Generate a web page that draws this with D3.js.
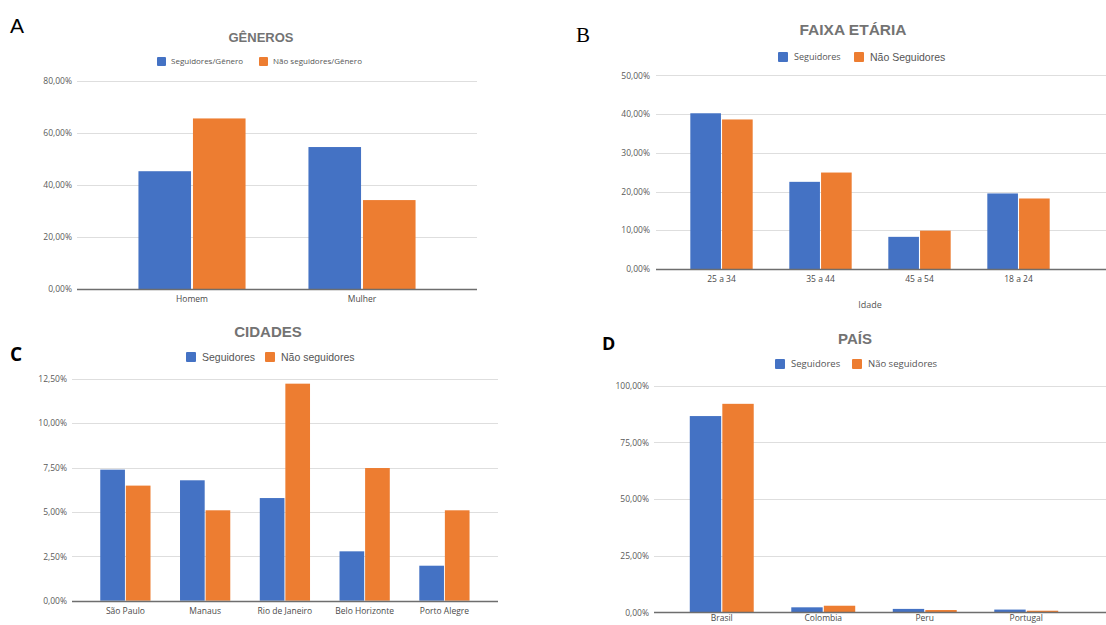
<!DOCTYPE html>
<html><head><meta charset="utf-8">
<script src="https://cdn.jsdelivr.net/npm/d3@7"></script>
<style>
html,body{margin:0;padding:0;background:#fff;}
svg{display:block;}
text{font-family:"Open Sans","Liberation Sans",Arial,sans-serif;}
</style></head>
<body>
<svg id="chart" width="1106" height="625"></svg>
<script>
// ---------- DATA ----------
const generoCategories = ["Homem", "Mulher"];
const generoSeries = ["Seguidores/Gênero", "Não seguidores/Gênero"];
const generoSeguidores = [45.3, 54.6];
const generoNaoSeguidores = [65.6, 34.2];
const generoTicks = [0, 20, 40, 60, 80];

const faixaCategories = ["25 a 34", "35 a 44", "45 a 54", "18 a 24"];
const faixaSeries = ["Seguidores", "Não Seguidores"];
const faixaSeguidores = [40.2, 22.5, 8.3, 19.5];
const faixaNaoSeguidores = [38.6, 24.9, 9.9, 18.2];
const faixaTicks = [0, 10, 20, 30, 40, 50];

const cidadeCategories = ["São Paulo", "Manaus", "Rio de Janeiro", "Belo Horizonte", "Porto Alegre"];
const cidadeSeries = ["Seguidores", "Não seguidores"];
const cidadeSeguidores = [7.38, 6.78, 5.78, 2.78, 1.97];
const cidadeNaoSeguidores = [6.48, 5.09, 12.22, 7.47, 5.09];
const cidadeTicks = [0, 2.5, 5, 7.5, 10, 12.5];

const paisCategories = ["Brasil", "Colombia", "Peru", "Portugal"];
const paisSeries = ["Seguidores", "Não seguidores"];
const paisSeguidores = [86.6, 2.2, 1.5, 1.2];
const paisNaoSeguidores = [92.0, 2.9, 1.0, 0.7];
const paisTicks = [0, 25, 50, 75, 100];

// ---------- STYLE ----------
const colors = ["#4472C4", "#ED7D31"];
const locale = d3.formatLocale({decimal: ",", thousands: ".", grouping: [3], currency: ["R$", ""]});
const fmt = v => locale.format(".2f")(v) + "%";

const svg = d3.select("#chart");

function panel(cfg) {
  const g = svg.append("g");
  const y = d3.scaleLinear().domain([0, cfg.max]).range([cfg.y0, cfg.y1]);
  const x0 = d3.scaleBand().domain(cfg.categories).range(cfg.band).padding(0);
  const groupW = x0.bandwidth() * 0.63;
  const x1 = d3.scaleBand().domain([0, 1]).range([0, groupW]).paddingInner(0.035);

  // gridlines
  g.selectAll(".grid").data(cfg.ticks.filter(t => t > 0)).join("line")
    .attr("x1", cfg.grid[0]).attr("x2", cfg.grid[1])
    .attr("y1", d => Math.round(y(d)) + 0.5).attr("y2", d => Math.round(y(d)) + 0.5)
    .attr("stroke", "#dedede").attr("stroke-width", 1);

  // y axis labels via d3 axis
  const yAxis = d3.axisLeft(y).tickValues(cfg.ticks).tickFormat(fmt).tickSize(0).tickPadding(0);
  const ya = g.append("g").attr("transform", `translate(${cfg.labelX},0)`).call(yAxis);
  ya.select(".domain").remove();
  ya.selectAll("text").attr("fill", "#5a5a5a").style("font-size", cfg.tickFont + "px")
    .style("font-family", '"Open Sans","Liberation Sans",sans-serif');

  // bars
  const series = [cfg.s1, cfg.s2];
  cfg.categories.forEach((c, i) => {
    series.forEach((arr, s) => {
      const xb = x0(c) + (x0.bandwidth() - groupW) / 2 + x1(s);
      g.append("rect")
        .attr("x", xb).attr("width", x1.bandwidth())
        .attr("y", y(arr[i])).attr("height", Math.max(0, y(0) - y(arr[i])))
        .attr("fill", colors[s]);
    });
  });

  // baseline
  g.append("line").attr("x1", cfg.grid[0]).attr("x2", cfg.grid[1])
    .attr("y1", Math.round(y(0)) + 0.5).attr("y2", Math.round(y(0)) + 0.5)
    .attr("stroke", "#6e6e6e").attr("stroke-width", 1.3);

  // x axis labels
  const xAxis = d3.axisBottom(x0).tickSize(0).tickPadding(0);
  const xa = g.append("g").attr("transform", `translate(0,${cfg.xLabelY})`).call(xAxis);
  xa.select(".domain").remove();
  xa.selectAll("text").attr("fill", "#4a4a4a").attr("dy", "0.35em").attr("y", 0)
    .style("font-size", cfg.xFont + "px")
    .style("font-family", '"Open Sans","Liberation Sans",sans-serif');

  // title
  g.append("text").attr("x", cfg.titleX).attr("y", cfg.titleY).attr("dy", "0.35em")
    .attr("text-anchor", "middle").attr("fill", "#737373")
    .style("font-size", cfg.titleFont + "px").style("font-weight", "bold")
    .style("font-family", '"Liberation Sans",Arial,sans-serif')
    .text(cfg.title);

  // legend
  cfg.legend.forEach((L, s) => {
    g.append("rect").attr("x", L.x).attr("y", cfg.legendY - cfg.sq / 2)
      .attr("width", cfg.sq).attr("height", cfg.sq).attr("rx", 1).attr("fill", colors[s]);
    g.append("text").attr("x", L.tx).attr("y", cfg.legendY).attr("dy", "0.35em")
      .attr("fill", "#555").style("font-size", L.font + "px")
      .style("font-family", L.family || '"Open Sans","Liberation Sans",sans-serif')
      .text(cfg.seriesNames[s]);
  });

  // panel letter
  g.append("text").attr("x", cfg.letter.x).attr("y", cfg.letter.y)
    .attr("fill", "#000").style("font-size", cfg.letter.size + "px")
    .style("font-weight", cfg.letter.weight)
    .style("font-family", cfg.letter.family)
    .text(cfg.letter.t);

  if (cfg.xTitle) {
    g.append("text").attr("x", cfg.xTitle.x).attr("y", cfg.xTitle.y).attr("dy", "0.35em")
      .attr("text-anchor", "middle").attr("fill", "#555").style("font-size", "9px")
      .text(cfg.xTitle.t);
  }
}

panel({
  categories: generoCategories, seriesNames: generoSeries, s1: generoSeguidores, s2: generoNaoSeguidores,
  ticks: generoTicks, max: 80, y0: 289, y1: 81, band: [107, 447], grid: [77, 477], labelX: 72,
  tickFont: 8.5, xFont: 8.5, xLabelY: 299,
  title: "GÊNEROS", titleX: 261, titleY: 37, titleFont: 13,
  legendY: 61.5, sq: 9, legend: [{x: 157, tx: 171, font: 8}, {x: 259, tx: 273, font: 8}],
  letter: {t: "A", x: 10, y: 33, size: 21, weight: "normal", family: '"Liberation Sans",Arial,sans-serif'}
});

panel({
  categories: faixaCategories, seriesNames: faixaSeries, s1: faixaSeguidores, s2: faixaNaoSeguidores,
  ticks: faixaTicks, max: 50, y0: 269, y1: 75.3, band: [672, 1068], grid: [656, 1106], labelX: 650,
  tickFont: 8.5, xFont: 8.5, xLabelY: 279,
  title: "FAIXA ETÁRIA", titleX: 853, titleY: 30, titleFont: 15.5,
  legendY: 57, sq: 10, legend: [{x: 778, tx: 794, font: 9}, {x: 854, tx: 870, font: 10.5, family: '"Liberation Sans",Arial,sans-serif'}],
  xTitle: {t: "Idade", x: 870, y: 305},
  letter: {t: "B", x: 576, y: 42, size: 21, weight: "normal", family: '"Liberation Serif","DejaVu Serif",serif'}
});

panel({
  categories: cidadeCategories, seriesNames: cidadeSeries, s1: cidadeSeguidores, s2: cidadeNaoSeguidores,
  ticks: cidadeTicks, max: 12.5, y0: 600.7, y1: 378.7, band: [85.5, 484.3], grid: [72, 498], labelX: 67,
  tickFont: 8.5, xFont: 8.5, xLabelY: 611,
  title: "CIDADES", titleX: 268, titleY: 332, titleFont: 15,
  legendY: 357, sq: 10, legend: [{x: 186, tx: 202, font: 10.5, family: '"Liberation Sans",Arial,sans-serif'}, {x: 265, tx: 281, font: 10.5, family: '"Liberation Sans",Arial,sans-serif'}],
  letter: {t: "C", x: 10, y: 361, size: 19, weight: "bold", family: '"Open Sans","Liberation Sans",sans-serif'}
});

panel({
  categories: paisCategories, seriesNames: paisSeries, s1: paisSeguidores, s2: paisNaoSeguidores,
  ticks: paisTicks, max: 100, y0: 612.3, y1: 385.7, band: [671, 1077], grid: [654, 1106], labelX: 649,
  tickFont: 8.5, xFont: 8.5, xLabelY: 618.5,
  title: "PAÍS", titleX: 855, titleY: 339, titleFont: 15,
  legendY: 364, sq: 10, legend: [{x: 775, tx: 791, font: 9.5}, {x: 852, tx: 868, font: 9.5}],
  letter: {t: "D", x: 602, y: 350, size: 18, weight: "bold", family: '"Open Sans","Liberation Sans",sans-serif'}
});
</script>
</body></html>
